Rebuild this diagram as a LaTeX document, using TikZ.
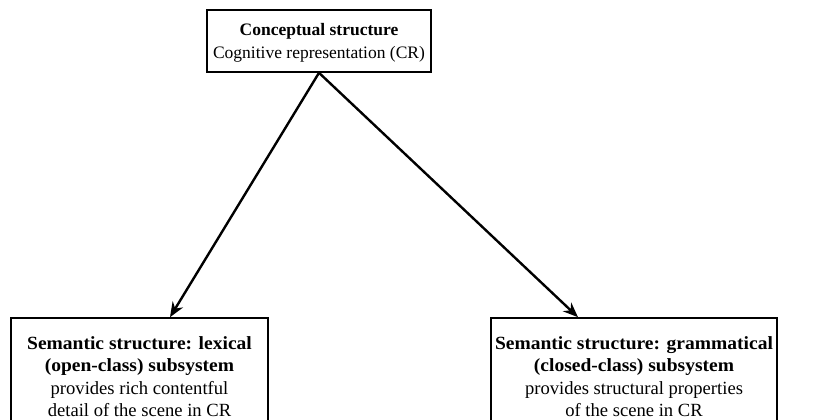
\documentclass[tikz,border=0pt]{standalone}
\usepackage{fontspec}
\setmainfont{Liberation Serif}
\newfontfamily\lowfont{Liberation Serif}[BoldFeatures={FakeStretch=1.05}]
\usetikzlibrary{calc,arrows.meta}
\begin{document}
\begin{tikzpicture}[x=1pt,y=1pt,
  frame/.style={draw=black,line width=1.6pt,inner sep=0pt},
  toptext/.style={align=center,inner sep=0pt,font=\fontsize{17.5}{23}\selectfont},
  lowtext/.style={align=center,inner sep=0pt,font=\lowfont\fontsize{18.6}{22.5}\selectfont},
  arr/.style={line width=2.4pt,-{Stealth[length=15pt,width=12pt]}}]
\useasboundingbox (0,0) rectangle (828,420);
\node[frame,minimum width=224pt,minimum height=62pt] (top) at (319,379) {};
\node[toptext] (toptxt) at ($(top.center)+(0,-1.5)$)
  {\textbf{Conceptual structure}\\Cognitive representation (CR)};
\node[frame,minimum width=257pt,minimum height=116pt] (lft) at (139.5,44) {};
\node[lowtext] (lfttxt) at (139.5,43.5)
  {\textbf{Semantic structure: lexical}\\\textbf{(open-class) subsystem}\\provides rich contentful\\detail of the scene in CR};
\node[frame,minimum width=286pt,minimum height=116pt] (rgt) at (634,44) {};
\node[lowtext] (rgttxt) at (634,43.5)
  {\textbf{Semantic structure: grammatical}\\\textbf{(closed-class) subsystem}\\provides structural properties\\of the scene in CR};
\draw[arr] (top.south) -- ($(lft.north)+(30.5,0)$);
\draw[arr] (top.south) -- ($(rgt.north)+(-56,0)$);
\end{tikzpicture}
\end{document}
